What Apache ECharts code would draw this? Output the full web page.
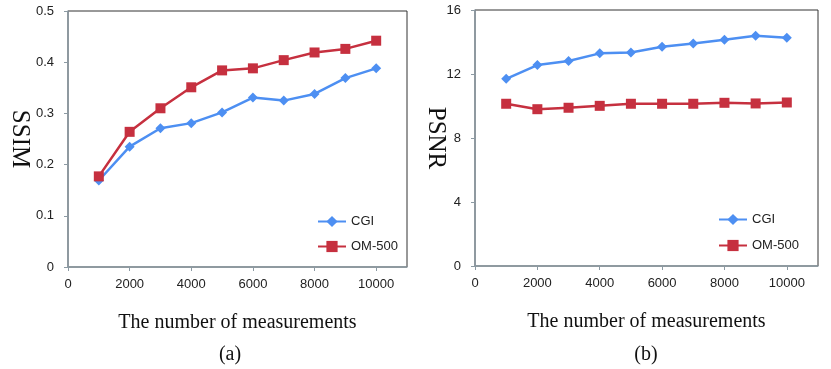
<!DOCTYPE html>
<html>
<head>
<meta charset="utf-8">
<script src="https://cdn.jsdelivr.net/npm/echarts@6/dist/echarts.min.js"></script>
<style>
  html, body { margin: 0; padding: 0; background: #fff; }
  #main { width: 831px; height: 369px; }
</style>
</head>
<body>
<div id="main"></div>
<script>
var measurements = [1000, 2000, 3000, 4000, 5000, 6000, 7000, 8000, 9000, 10000];
var ssimCGI = [0.169, 0.235, 0.271, 0.281, 0.302, 0.331, 0.325, 0.338, 0.369, 0.388];
var ssimOM = [0.177, 0.264, 0.310, 0.351, 0.384, 0.388, 0.404, 0.419, 0.426, 0.442];
var psnrCGI = [11.70, 12.56, 12.81, 13.29, 13.35, 13.70, 13.91, 14.14, 14.39, 14.27];
var psnrOM = [10.14, 9.80, 9.89, 10.01, 10.14, 10.14, 10.14, 10.20, 10.16, 10.22];

var blue = '#4d8ff2';
var red = '#c6303f';
var axisGray = '#8c9aa3';
var serif = '"Liberation Serif", "DejaVu Serif", serif';
var sans = '"Liberation Sans", Arial, sans-serif';

function pairs(xs, ys) {
  return xs.map(function (x, i) { return [x, ys[i]]; });
}

function xAxisFor(gridIndex) {
  return {
    type: 'value', gridIndex: gridIndex,
    min: 0, max: 11000, interval: 2000,
    name: 'The number of measurements', nameLocation: 'middle', nameGap: 46,
    nameMoveOverlap: false,
    nameTextStyle: { fontFamily: serif, fontSize: 20, color: '#111' },
    axisLine: { lineStyle: { color: axisGray, width: 1.5 } },
    axisTick: { show: true, length: 4, lineStyle: { color: axisGray } },
    axisLabel: { showMaxLabel: false, margin: 11, fontFamily: sans, fontSize: 13, color: '#222',
      formatter: function (v) { return String(v); } },
    splitLine: { show: false }
  };
}

function yAxisFor(gridIndex, name, max, interval, gap) {
  return {
    type: 'value', gridIndex: gridIndex,
    min: 0, max: max, interval: interval,
    name: name, nameLocation: 'middle', nameRotate: -90, nameGap: gap,
    nameMoveOverlap: false,
    nameTextStyle: { fontFamily: serif, fontSize: 25, color: '#111' },
    axisLine: { show: true, lineStyle: { color: axisGray, width: 1.5 } },
    axisTick: { show: true, length: 4, lineStyle: { color: axisGray } },
    axisLabel: { margin: 14, fontFamily: sans, fontSize: 13, color: '#222' },
    splitLine: { show: false }
  };
}

function lineSeries(name, idx, data, color, symbol) {
  return {
    name: name, type: 'line', xAxisIndex: idx, yAxisIndex: idx,
    data: data,
    symbol: symbol, symbolSize: 10,
    showAllSymbol: true,
    lineStyle: { color: color, width: 2.5 },
    itemStyle: { color: color },
    animation: false
  };
}

var chart = echarts.init(document.getElementById('main'));
chart.setOption({
  backgroundColor: '#fff',
  animation: false,
  grid: [
    { left: 68, top: 11, width: 339, height: 256, show: true, borderColor: '#333', borderWidth: 1,
      containLabel: false, outerBoundsMode: 'none' },
    { left: 475, top: 10, width: 343, height: 256, show: true, borderColor: '#333', borderWidth: 1,
      containLabel: false, outerBoundsMode: 'none' }
  ],
  legend: [
    { orient: 'vertical', left: 317, top: 215, padding: 0, itemWidth: 28, itemHeight: 14, itemGap: 12,
      textStyle: { fontFamily: sans, fontSize: 13, color: '#222' }, data: ['CGI', 'OM-500'] },
    { orient: 'vertical', left: 718, top: 213, padding: 0, itemWidth: 28, itemHeight: 14, itemGap: 13,
      textStyle: { fontFamily: sans, fontSize: 13, color: '#222' }, data: ['CGI', 'OM-500'] }
  ],
  xAxis: [xAxisFor(0), xAxisFor(1)],
  yAxis: [yAxisFor(0, 'SSIM', 0.5, 0.1, 36), yAxisFor(1, 'PSNR', 16, 4, 27)],
  series: [
    lineSeries('CGI', 0, pairs(measurements, ssimCGI), blue, 'diamond'),
    lineSeries('OM-500', 0, pairs(measurements, ssimOM), red, 'rect'),
    lineSeries('CGI', 1, pairs(measurements, psnrCGI), blue, 'diamond'),
    lineSeries('OM-500', 1, pairs(measurements, psnrOM), red, 'rect')
  ],
  graphic: [
    { type: 'text', x: 230, y: 355, style: { text: '(a)', font: '20px ' + serif, fill: '#111', align: 'center', verticalAlign: 'middle' } },
    { type: 'text', x: 646, y: 355, style: { text: '(b)', font: '20px ' + serif, fill: '#111', align: 'center', verticalAlign: 'middle' } }
  ]
});
</script>
</body>
</html>
